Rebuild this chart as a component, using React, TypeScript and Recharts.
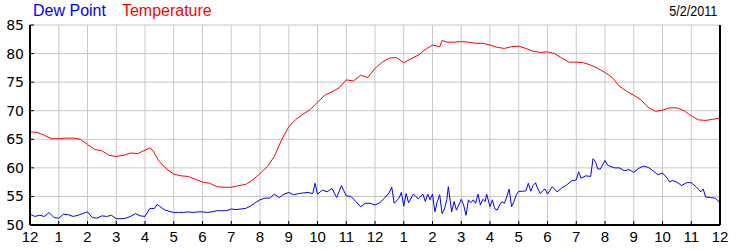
import { CartesianGrid, Line, LineChart, XAxis, YAxis } from "recharts";

// minutes after midnight, 5/2/2011
const tempMinutes = [
  0, 15, 30, 45, 60, 75, 90, 105, 120, 135, 150, 165, 180, 195, 210, 225, 240,
  250, 255, 270, 285, 300, 315, 330, 345, 360, 375, 390, 405, 420, 435, 450,
  465, 480, 495, 510, 525, 540, 555, 570, 585, 600, 615, 630, 645, 660, 675,
  690, 705, 720, 735, 750, 765, 780, 795, 810, 825, 840, 855, 860, 870, 885,
  900, 915, 930, 945, 960, 975, 990, 1005, 1020, 1035, 1050, 1065, 1080, 1095,
  1110, 1125, 1140, 1155, 1170, 1185, 1200, 1215, 1230, 1245, 1260, 1275, 1290,
  1305, 1320, 1335, 1350, 1365, 1380, 1395, 1410, 1425, 1440,
];
const temperature = [
  66.3, 66.2, 65.7, 65.1, 65.1, 65.2, 65.2, 65.0, 64.1, 63.2, 63.0, 62.2, 62.0,
  62.2, 62.6, 62.5, 63.1, 63.5, 63.2, 61.1, 59.8, 58.9, 58.6, 58.5, 58.0, 57.5,
  57.3, 56.7, 56.6, 56.6, 56.9, 57.1, 57.9, 59.0, 60.2, 62.0, 64.9, 67.2, 68.5,
  69.4, 70.2, 71.5, 72.7, 73.3, 74.0, 75.4, 75.2, 76.2, 75.8, 77.4, 78.5, 79.2,
  79.3, 78.4, 79.1, 79.7, 80.7, 81.5, 81.2, 82.3, 82.0, 82.0, 82.1, 82.0, 81.8,
  81.8, 81.5, 81.1, 80.9, 81.2, 81.3, 80.9, 80.4, 80.2, 80.3, 80.0, 79.2, 78.5,
  78.5, 78.4, 78.0, 77.4, 76.7, 75.8, 74.3, 73.4, 72.7, 71.9, 70.6, 69.9, 70.1,
  70.5, 70.5, 70.0, 69.1, 68.4, 68.3, 68.5, 68.7,
];

const dewMinutes = [
  0, 10, 20, 30, 40, 50, 60, 70, 80, 90, 100, 110, 120, 130, 140, 150, 160, 170,
  180, 190, 200, 210, 220, 230, 240, 250, 260, 265, 270, 280, 290, 300, 310,
  320, 330, 340, 350, 360, 370, 380, 390, 400, 410, 420, 430, 440, 450, 460,
  470, 480, 490, 500, 510, 520, 530, 540, 550, 560, 570, 580, 590, 595, 600,
  610, 620, 630, 640, 650, 660, 670, 680, 690, 700, 710, 720, 730, 740, 750,
  755, 760, 770, 775, 780, 785, 790, 800, 810, 820, 825, 830, 835, 840, 845,
  850, 855, 860, 865, 870, 873, 880, 885, 890, 900, 905, 910, 915, 920, 925,
  930, 935, 940, 945, 950, 953, 960, 965, 970, 975, 980, 985, 990, 995, 1000,
  1005, 1010, 1015, 1020, 1030, 1035, 1040, 1045, 1050, 1055, 1060, 1065, 1070,
  1075, 1080, 1090, 1100, 1110, 1120, 1130, 1140, 1145, 1150, 1160, 1170, 1175,
  1180, 1185, 1190, 1195, 1200, 1205, 1210, 1220, 1230, 1240, 1250, 1260, 1270,
  1280, 1290, 1300, 1310, 1320, 1330, 1335, 1340, 1350, 1360, 1370, 1380, 1390,
  1400, 1405, 1410, 1420, 1430, 1440,
];
const dewPoint = [
  51.9, 51.5, 51.7, 51.5, 52.2, 51.3, 51.2, 51.9, 51.8, 51.5, 51.7, 52.0, 52.3,
  51.3, 51.2, 51.6, 51.5, 51.7, 51.1, 51.1, 51.2, 51.5, 52.0, 51.6, 51.5, 52.9,
  52.9, 53.6, 53.3, 52.7, 52.4, 52.2, 52.2, 52.2, 52.3, 52.2, 52.3, 52.3, 52.2,
  52.3, 52.5, 52.5, 52.5, 52.8, 52.7, 52.8, 52.9, 53.3, 53.9, 54.4, 54.7, 54.7,
  55.4, 54.8, 55.4, 55.7, 55.3, 55.5, 55.6, 55.7, 55.5, 57.3, 55.4, 56.1, 55.8,
  56.4, 54.8, 56.9, 55.1, 55.0, 54.1, 53.2, 53.8, 53.8, 53.5, 53.9, 54.7, 55.7,
  56.6, 53.8, 54.7, 55.7, 53.3, 55.5, 53.9, 55.4, 54.6, 55.4, 54.1, 55.4, 54.4,
  55.4, 52.3, 54.1, 55.3, 52.0, 52.8, 54.5, 56.7, 52.3, 54.1, 52.6, 54.5, 53.5,
  51.7, 54.4, 53.9, 54.4, 53.8, 55.4, 53.5, 54.5, 54.1, 55.4, 53.2, 54.4, 52.8,
  52.6, 53.5, 54.1, 53.8, 54.9, 56.3, 53.2, 54.1, 55.3, 55.9, 55.9, 56.0, 57.3,
  55.9, 56.9, 57.4, 56.3, 55.5, 56.0, 56.3, 55.4, 56.7, 55.8, 56.5, 57.0, 57.7,
  57.9, 59.3, 58.2, 58.6, 58.5, 61.6, 61.1, 59.8, 59.8, 60.5, 61.3, 60.5, 60.3,
  60.0, 60.0, 59.5, 59.7, 59.2, 59.9, 60.3, 60.1, 59.5, 58.8, 59.1, 58.2, 57.5,
  57.8, 57.5, 56.9, 57.4, 57.4, 56.7, 55.8, 56.3, 54.9, 54.8, 54.7, 53.9,
];

const hourTicks = [
  0, 60, 120, 180, 240, 300, 360, 420, 480, 540, 600, 660, 720, 780, 840, 900,
  960, 1020, 1080, 1140, 1200, 1260, 1320, 1380, 1440,
];
const valueTicks = [50, 55, 60, 65, 70, 75, 80, 85];
const dateLabel = "5/2/2011";

const tempData = tempMinutes.map((t, i) => ({ t, v: temperature[i] }));
const dewData = dewMinutes.map((t, i) => ({ t, v: dewPoint[i] }));

const hourLabel = (m: number) => {
  const h = Math.round(m / 60) % 12;
  return String(h === 0 ? 12 : h);
};

const axisFont = { fontFamily: '"Liberation Sans", Arial, sans-serif', fontSize: 15, fill: "#000" };
const valueFont = { fontFamily: '"DejaVu Sans", Verdana, sans-serif', fontSize: 14, fill: "#000" };
const border = { stroke: "#000", strokeWidth: 2 };

export default function App() {
  return (
    <div
      style={{
        position: "absolute",
        left: 0,
        top: 0,
        width: 750,
        height: 250,
        background: "#fff",
        overflow: "hidden",
      }}
    >
      <div
        style={{
          position: "absolute",
          left: 33,
          top: 3,
          fontFamily: '"Liberation Sans", Arial, sans-serif',
          fontSize: 16,
          lineHeight: 1,
          whiteSpace: "nowrap",
        }}
      >
        <span style={{ color: "#0000ff" }}>Dew Point</span>
        <span style={{ color: "#ff0000", marginLeft: 16 }}>Temperature</span>
      </div>
      <div
        style={{
          position: "absolute",
          right: 33,
          top: 3,
          fontFamily: '"Liberation Sans", Arial, sans-serif',
          fontSize: 15,
          lineHeight: 1,
          color: "#000",
          whiteSpace: "nowrap",
          transform: "scaleX(0.84)",
          transformOrigin: "right top",
        }}
      >
        {dateLabel}
      </div>
      <LineChart width={750} height={250} margin={{ top: 25, right: 0, bottom: 0, left: 0 }}>
        <CartesianGrid stroke="#c8c8c8" strokeWidth={1} />
        <XAxis
          dataKey="t"
          type="number"
          domain={[0, 1440]}
          ticks={hourTicks}
          interval={0}
          tickFormatter={hourLabel}
          height={25}
          tickSize={-4}
          tickMargin={10}
          axisLine={border}
          tickLine={{ stroke: "#000" }}
          tick={axisFont}
        />
        <XAxis
          xAxisId="top"
          orientation="top"
          dataKey="t"
          type="number"
          domain={[0, 1440]}
          ticks={hourTicks}
          interval={0}
          height={0}
          tickSize={-4}
          axisLine={border}
          tickLine={{ stroke: "#000" }}
          tick={false}
        />
        <YAxis
          type="number"
          domain={[50, 85]}
          ticks={valueTicks}
          interval={0}
          width={30}
          tickSize={-4}
          tickMargin={10}
          axisLine={border}
          tickLine={{ stroke: "#000" }}
          tick={valueFont}
        />
        <YAxis
          yAxisId="right"
          orientation="right"
          type="number"
          domain={[50, 85]}
          ticks={valueTicks}
          interval={0}
          width={30}
          tickSize={-4}
          tickMargin={11}
          axisLine={border}
          tickLine={{ stroke: "#000" }}
          tick={valueFont}
        />
        <Line
          data={tempData}
          dataKey="v"
          name="Temperature"
          type="linear"
          stroke="#ff0000"
          strokeWidth={1}
          dot={false}
          isAnimationActive={false}
        />
        <Line
          data={dewData}
          dataKey="v"
          name="Dew Point"
          type="linear"
          stroke="#0000ff"
          strokeWidth={1}
          dot={false}
          isAnimationActive={false}
        />
      </LineChart>
    </div>
  );
}
